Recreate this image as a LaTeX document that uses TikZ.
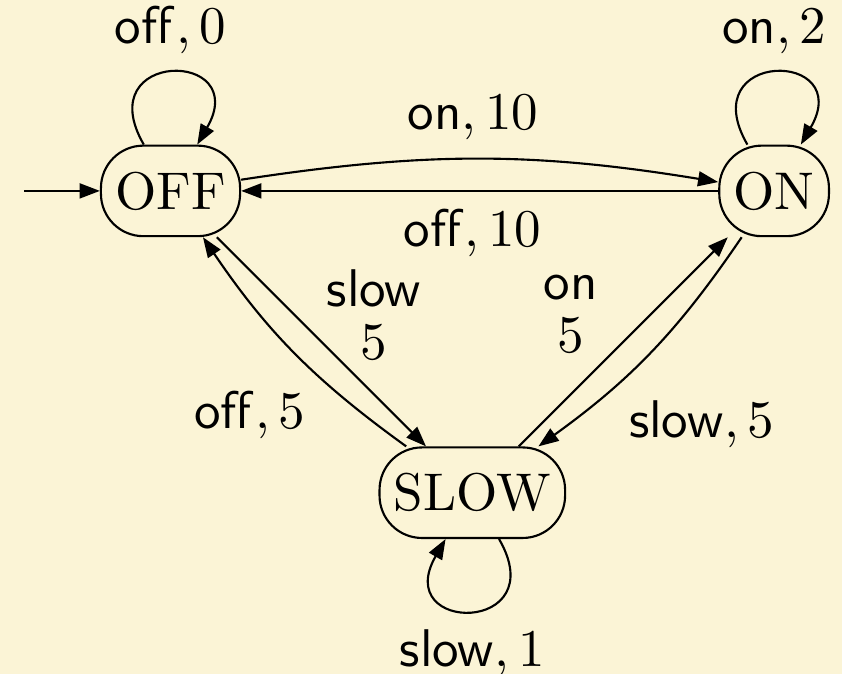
\documentclass[tikz,border=0pt]{standalone}
\usetikzlibrary{arrows.meta,positioning}
\definecolor{paper}{RGB}{251,244,214}
\tikzset{
  modebox/.style={draw, rectangle, rounded corners=8pt, minimum height=0.6cm, inner xsep=2.7pt},
}
\begin{document}
\begin{tikzpicture}[>={Triangle[length=3.8pt,width=2.8pt]}]
                \path[use as bounding box, fill=paper] (-1.13,-3.2) rectangle (4.45,1.265);
                \node[modebox] (OFF) at (0,0) {OFF}; \node[modebox] (ON) at (4,0) {ON}; \node[modebox] (SLOW) at (2,-2) {SLOW};
                \coordinate[left=5mm of OFF] (init);

                \draw[->] (init) to (OFF);
                \draw[->] (OFF) to[loop, out=120, in=60, distance=7.3mm] node[above] {\(\mathsf{off}, 0\)} (OFF);
                \draw[->] (ON) to[loop, out=120, in=60, distance=7.3mm] node[above] {\(\mathsf{on}, 2\)} (ON);
                \draw[->] (SLOW) to[loop, out=-60, in=-120, distance=7.3mm] node[below] {\(\mathsf{slow}, 1\)} (SLOW);
                \draw[->] (OFF) to[bend left=9] node[pos=.485, above] {\(\mathsf{on}, 10\)} (ON); \draw[->] (ON) to node[pos=.515, below] {\(\mathsf{off}, 10\)} (OFF);
                \draw[->] (OFF) to node[pos=.37, xshift=5.3mm, align=center] {\(\mathsf{slow}\)\\[-2pt]\(5\)} (SLOW); \draw[->] (SLOW) to[bend left=10] node[pos=.39, below left, xshift=.6mm] {\(\mathsf{off}, 5\)} (OFF);
                \draw[->] (SLOW) to node[pos=.63, xshift=-5.3mm, align=center] {\(\mathsf{on}\)\\[-2pt]\(5\)} (ON); \draw[->] (ON) to[bend left=10] node[pos=.66, below right, xshift=-.6mm] {\(\mathsf{slow}, 5\)} (SLOW);
            \end{tikzpicture}
\end{document}
